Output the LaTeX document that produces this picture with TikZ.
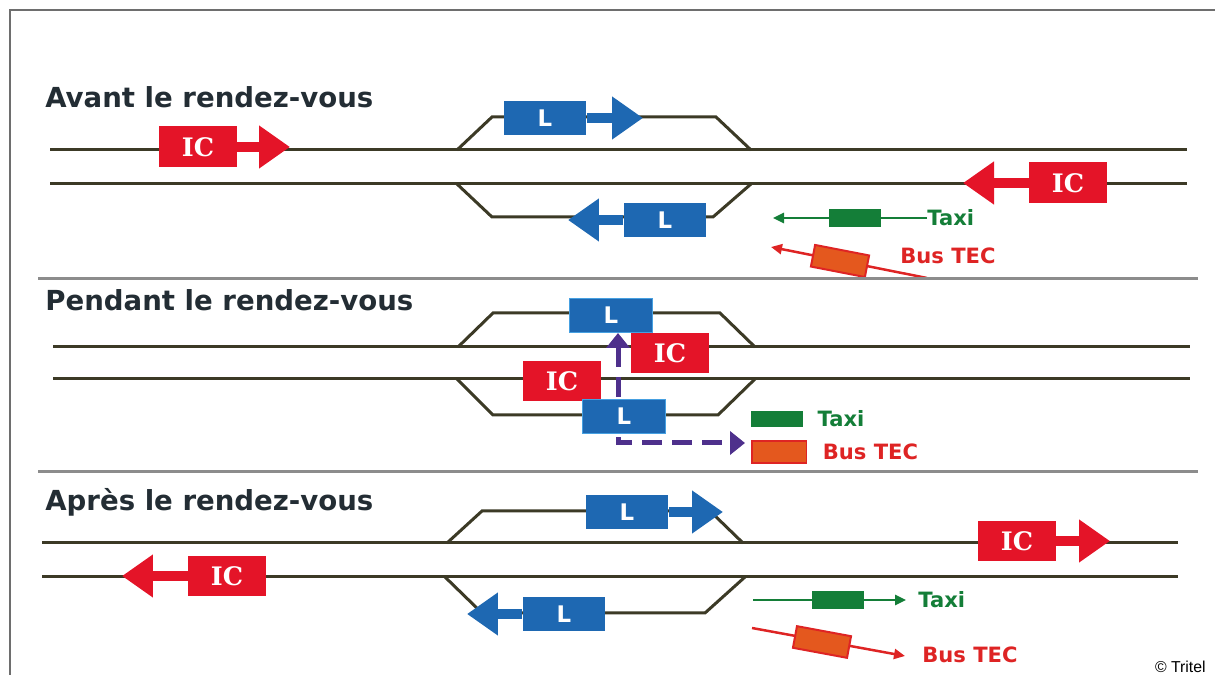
\documentclass[tikz,border=0pt]{standalone}
\usepackage{fontspec}
\usepackage{xcolor}
\usepackage{tikz}
\usetikzlibrary{arrows.meta, positioning}
\newfontfamily\vfont{DejaVu Sans}
\newfontfamily\icfont{DejaVu Serif}
\newfontfamily\credfont{Liberation Sans}
\definecolor{icred}{RGB}{228,20,40}
\definecolor{lblue}{RGB}{30,104,178}
\definecolor{lrim}{RGB}{70,160,225}
\definecolor{trackcol}{RGB}{60,58,38}
\definecolor{sepgrey}{RGB}{140,140,140}
\definecolor{framegrey}{RGB}{110,110,110}
\definecolor{taxigreen}{RGB}{20,126,56}
\definecolor{busorange}{RGB}{228,88,30}
\definecolor{busred}{RGB}{222,36,36}
\definecolor{xferpurple}{RGB}{78,48,140}
\definecolor{titlecol}{RGB}{35,45,52}

\begin{document}
\begin{tikzpicture}[x=0.02cm, y=-0.02cm,
		track/.style={draw=trackcol, line width=0.06cm},
		divider/.style={draw=sepgrey, line width=0.06cm},
		frame/.style={draw=framegrey, line width=0.04cm},
		title/.style={font=\vfont\bfseries\fontsize{15.7pt}{18pt}\selectfont, text=titlecol, anchor=base west, inner sep=0pt},
		icbox/.style={fill=icred, minimum width=1.56cm, minimum height=0.82cm, inner sep=0pt, text=white, font=\icfont\bfseries\fontsize{14.5pt}{16pt}\selectfont},
		lbox/.style={fill=lblue, minimum width=1.66cm, minimum height=0.68cm, inner sep=0pt, text=white, font=\vfont\bfseries\fontsize{13pt}{15pt}\selectfont},
		icarrow/.style={draw=icred, line width=0.2cm, -{Triangle[length=0.62cm, width=0.82cm]}},
		larrow/.style={draw=lblue, line width=0.2cm, -{Triangle[length=0.62cm, width=0.82cm]}},
		taxibox/.style={fill=taxigreen, minimum width=1.04cm, minimum height=0.37cm, inner sep=0pt},
		busbox/.style={fill=busorange, draw=busred, line width=0.04cm, minimum width=1.1cm, minimum height=0.44cm, inner sep=0pt},
		taxiline/.style={draw=taxigreen, line width=0.05cm, -{Triangle[length=0.22cm, width=0.2cm]}},
		busline/.style={draw=busred, line width=0.05cm, -{Triangle[length=0.22cm, width=0.2cm]}},
		transfer/.style={draw=xferpurple, line width=0.1cm, dash pattern=on 0.4cm off 0.2cm, {Triangle[length=0.3cm, width=0.46cm]}-{Triangle[length=0.3cm, width=0.46cm]}},
		lbl/.style={font=\vfont\bfseries\fontsize{12pt}{14pt}\selectfont, anchor=west, inner sep=0pt},
		credit/.style={font=\credfont\fontsize{9pt}{11pt}\selectfont, anchor=east, inner sep=0pt}]
	\useasboundingbox (0,0) rectangle (1215,675);
	\draw[frame] (10,675) -- (10,10) -- (1215,10);
	% Avant le rendez-vous:
	\node[title] (N1) at (45,108) {Avant le rendez-vous};
	\draw[track] (50,150) -- (1187,150);
	\draw[track] (50,184) -- (1187,184);
	\draw[track] (457,150) -- (492,117) -- (716,117) -- (751,150);
	\draw[track] (457,184) -- (492,217) -- (713,217) -- (751,184);
	\node[icbox] (N2) at (198,147) {IC};
	\coordinate (A2) at (290,147);
	\draw[icarrow] (N2) -- (A2);
	\node[lbox] (N3) at (545,118) {L};
	\coordinate (A3) at (643,118);
	\draw[larrow] (N3) -- (A3);
	\node[lbox] (N4) at (665,220) {L};
	\coordinate (A4) at (568,220);
	\draw[larrow] (N4) -- (A4);
	\node[icbox] (N5) at (1068,183) {IC};
	\coordinate (A5) at (963,183);
	\draw[icarrow] (N5) -- (A5);
	\node[lbl, text=taxigreen] (N6) at (927,218) {Taxi};
	\coordinate (A6) at (773,218);
	\draw[taxiline] (N6) -- (A6);
	\node[taxibox] (N7) at (855,218) {};
	\coordinate (C8) at (927,278);
	\coordinate (A8) at (771,247);
	\draw[busline] (C8) -- (A8);
	\node[busbox, rotate=-11] (N8) at (840,261) {};
	\node[lbl, text=busred] (N9) at (900,256) {Bus TEC};
	% Pendant le rendez-vous:
	\draw[divider] (38,279) -- (1198,279);
	\node[title] (N10) at (45,311) {Pendant le rendez-vous};
	\draw[track] (53,347) -- (1190,347);
	\draw[track] (53,379) -- (1190,379);
	\draw[track] (458,347) -- (493,313) -- (720,313) -- (755,347);
	\draw[track] (457,379) -- (493,415) -- (718,415) -- (755,379);
	\coordinate (C11) at (618,333);
	\coordinate (A11) at (745,443);
	\draw[transfer] (C11) |- (A11);
	\node[lbox, draw=lrim] (N12) at (611,315) {L};
	\node[icbox] (N13) at (670,353) {IC};
	\node[icbox] (N14) at (562,381) {IC};
	\node[lbox, draw=lrim] (N15) at (624,416) {L};
	\node[taxibox, minimum height=0.32cm] (N16) at (777,419) {};
	\node[lbl, text=taxigreen, right=0.28cm of N16] (N17) {Taxi};
	\node[busbox] (N18) at (779,452) {};
	\node[lbl, text=busred, right=0.3cm of N18] (N19) {Bus TEC};
	% Apres le rendez-vous:
	\draw[divider] (38,472) -- (1198,472);
	\node[title] (N20) at (45,511) {Après le rendez-vous};
	\draw[track] (42,543) -- (1178,543);
	\draw[track] (42,577) -- (1178,577);
	\draw[track] (447,543) -- (482,511) -- (710,511) -- (743,543);
	\draw[track] (445,577) -- (482,613) -- (705,613) -- (745,577);
	\node[lbox] (N21) at (627,512) {L};
	\coordinate (A21) at (723,512);
	\draw[larrow] (N21) -- (A21);
	\node[lbox] (N22) at (564,614) {L};
	\coordinate (A22) at (467,614);
	\draw[larrow] (N22) -- (A22);
	\node[icbox] (N23) at (227,576) {IC};
	\coordinate (A23) at (122,576);
	\draw[icarrow] (N23) -- (A23);
	\node[icbox] (N24) at (1017,541) {IC};
	\coordinate (A24) at (1110,541);
	\draw[icarrow] (N24) -- (A24);
	\coordinate (C25) at (753,600);
	\node[lbl, text=taxigreen] (N25) at (918,600) {Taxi};
	\draw[taxiline, shorten >=0.24cm] (C25) -- (N25);
	\node[taxibox] (N26) at (838,600) {};
	\coordinate (C27) at (752,628);
	\coordinate (A27) at (905,656);
	\draw[busline] (C27) -- (A27);
	\node[busbox, rotate=-10.5] (N28) at (822,642) {};
	\node[lbl, text=busred] (N29) at (922,655) {Bus TEC};
	\node[credit] (N30) at (1206,667) {© Tritel};
\end{tikzpicture}
\end{document}
